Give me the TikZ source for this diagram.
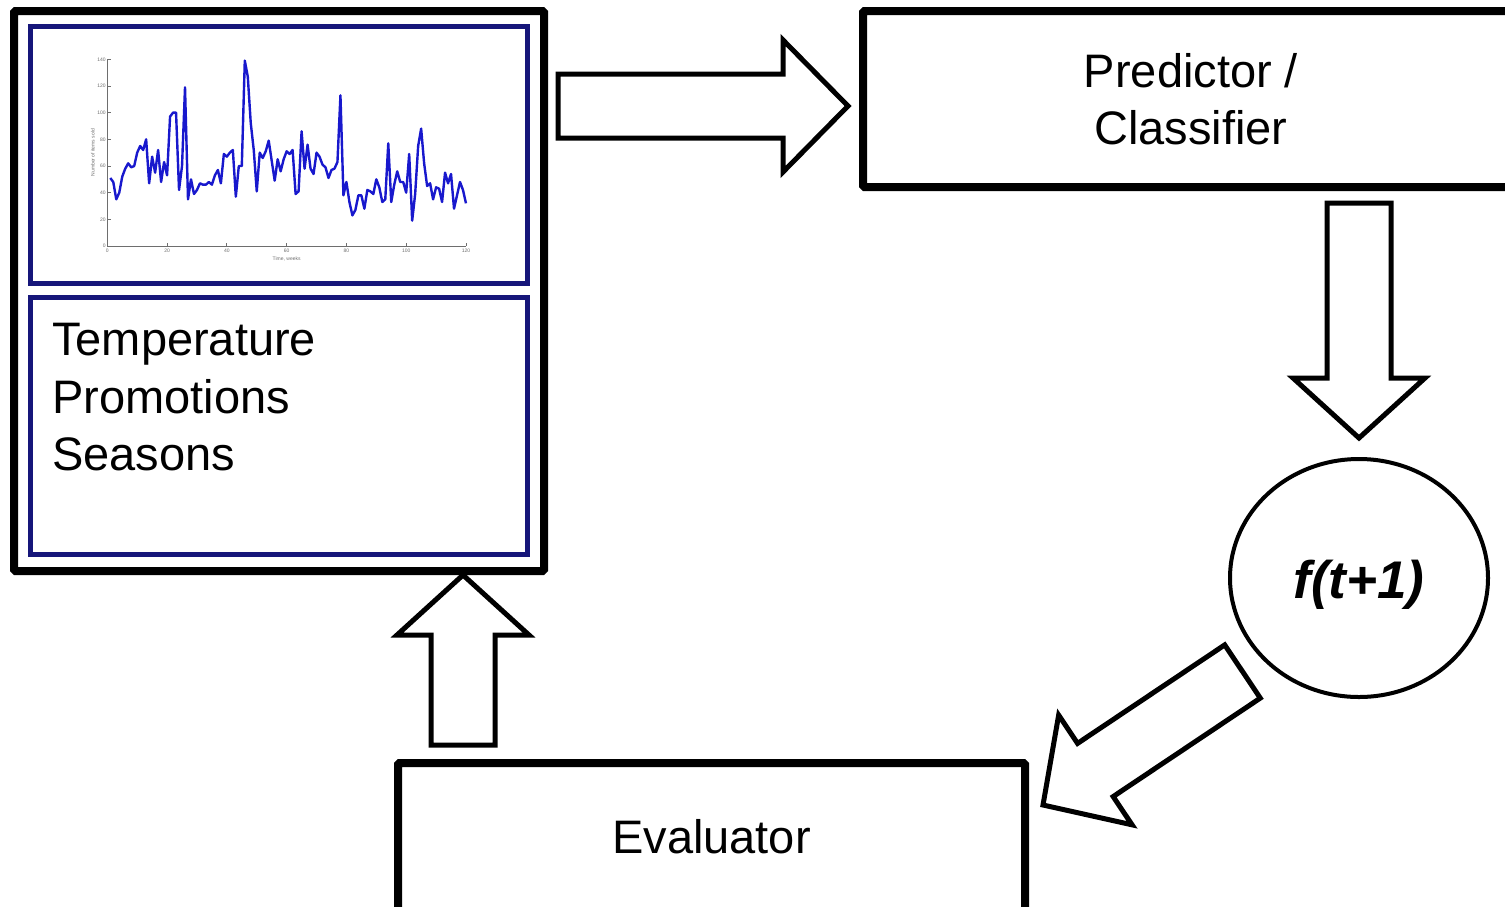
\documentclass[tikz,border=0pt]{standalone}
\usepackage{fontspec}
\setmainfont{Liberation Sans}
\usetikzlibrary{calc,shapes.geometric}

\definecolor{boxnavy}{RGB}{22,22,122}
\definecolor{plotblue}{RGB}{24,24,205}
\definecolor{axisgray}{RGB}{110,110,110}

% hollow block arrow from #2 to the tip #3, #1 = head length
\newcommand{\blockarrow}[3][62pt]{%
  \coordinate (hb) at ($(#3)!#1!(#2)$);
  \draw[hollow] ($(#2)!32pt!90:(#3)$) -- ($(hb)!32pt!-90:(#2)$)
    -- ($(hb)!66pt!-90:(#2)$) -- (#3) -- ($(hb)!66pt!90:(#2)$)
    -- ($(hb)!32pt!90:(#2)$) -- ($(#2)!32pt!-90:(#3)$) -- cycle;
}

\begin{document}
\begin{tikzpicture}[x=1pt,y=-1pt,
    bigbox/.style={draw,line width=8pt,rounded corners=1.5pt,inner sep=0pt},
    navybox/.style={draw=boxnavy,line width=5pt,inner sep=0pt},
    hollow/.style={draw,line width=5pt,fill=white,line join=miter},
    label/.style={font=\fontsize{47}{57.5}\selectfont,inner sep=0pt},
    axisline/.style={draw=axisgray,line width=0.8pt},
    ticklbl/.style={text=axisgray,font=\fontsize{5}{6}\selectfont,inner sep=0.5pt},
    series/.style={draw=plotblue,line width=2.4pt,line join=round}]
  \useasboundingbox (0,0) rectangle (1505,906);

  % left block: data + factors
  \node[bigbox,minimum width=530pt,minimum height=560pt] (inputs) at (279,291) {};
  \node[navybox,minimum width=497pt,minimum height=257pt] (chart) at (278.5,154.5) {};
  \node[navybox,minimum width=497pt,minimum height=257pt] (factors) at (278.5,425.5) {};
  \node[label,align=left,anchor=north west] (factortext) at (52,323)
    {Temperature\\Promotions\\Seasons};

  % the sales chart
  \begin{scope}[shift={(107.3,246)},x=2.989pt,y=1.3336pt]
    \draw[axisline] (0,140) -- (0,0) -- (120,0);
    \foreach \v in {0,20,...,140} {
      \draw[axisline] (0,\v) -- (1.3,\v);
      \node[ticklbl,anchor=east] at (-0.3,\v) {\v};
    }
    \foreach \t in {0,20,...,120} {
      \draw[axisline] (\t,0) -- (\t,2.2);
      \node[ticklbl,anchor=north] at (\t,-1.5) {\t};
    }
    \node[ticklbl,rotate=90] (ylbl) at (-4.8,70) {Number of items sold};
    \node[ticklbl] (xlbl) at (60,-9.5) {Time, weeks};
    \draw[series] plot coordinates {
      (1,51) (2,48) (3,35) (4,40) (5,52) (6,58) (7,62) (8,59) (9,60) (10,70)
      (11,75) (12,72) (13,80) (14,47) (15,67) (16,55) (17,72) (18,48) (19,63) (20,53)
      (21,97) (22,100) (23,100) (24,42) (25,60) (26,119) (27,35) (28,50) (29,39) (30,42)
      (31,47) (32,46) (33,46) (34,48) (35,46) (36,53) (37,57) (38,47) (39,69) (40,67)
      (41,70) (42,72) (43,37) (44,60) (45,60) (46,139) (47,127) (48,92) (49,72) (50,41)
      (51,70) (52,66) (53,71) (54,79) (55,64) (56,49) (57,65) (58,56) (59,65) (60,71)
      (61,69) (62,72) (63,39) (64,41) (65,86) (66,58) (67,76) (68,58) (69,54) (70,70)
      (71,67) (72,61) (73,59) (74,51) (75,57) (76,58) (77,63) (78,113) (79,38) (80,48)
      (81,33) (82,23) (83,27) (84,38) (85,38) (86,28) (87,42) (88,41) (89,39) (90,50)
      (91,44) (92,33) (93,35) (94,77) (95,33) (96,46) (97,56) (98,48) (99,48) (100,40)
      (101,69) (102,19) (103,39) (104,75) (105,88) (106,62) (107,45) (108,47) (109,35) (110,44)
      (111,43) (112,33) (113,55) (114,47) (115,54) (116,28) (117,38) (118,48) (119,42) (120,32)};
  \end{scope}

  % other blocks
  \node[bigbox,label,align=center,minimum width=656pt,minimum height=176pt] (predictor)
    at (1191,99) {Predictor /\\Classifier};
  \node[draw,ellipse,line width=4pt,minimum width=258pt,minimum height=238pt,inner sep=0pt,
    font=\fontsize{53}{60}\selectfont\bfseries\itshape] (forecast) at (1359,578)
    {\raisebox{-20pt}[0pt][0pt]{f(t+1)}};
  \node[bigbox,label,minimum width=627pt,minimum height=148pt] (evaluator)
    at (711.5,837) {Evaluator};

  % block arrows
  \coordinate (a1) at (558,106);    \coordinate (a1tip) at (848,106);
  \coordinate (a2) at (1359,203);   \coordinate (a2tip) at (1359,438);
  \coordinate (a3) at (1242.5,671.5); \coordinate (a3tip) at (1043,805);
  \coordinate (a4) at (463,745);    \coordinate (a4tip) at (463,575);
  \blockarrow[65pt]{a1}{a1tip}
  \blockarrow[60pt]{a2}{a2tip}
  \blockarrow[63pt]{a3}{a3tip}
  \blockarrow[60pt]{a4}{a4tip}
\end{tikzpicture}
\end{document}
